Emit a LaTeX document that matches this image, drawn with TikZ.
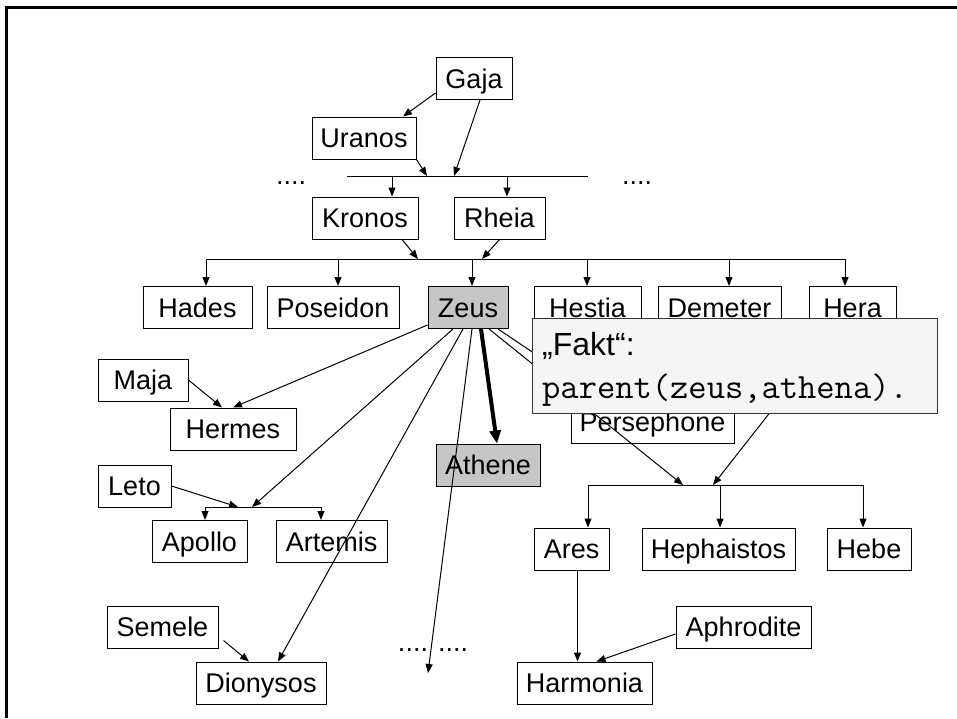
\documentclass[tikz,border=0pt]{standalone}
\usepackage{fontspec}
\setmainfont{Liberation Sans}
\usetikzlibrary{calc, arrows.meta}

\newcommand{\godfont}{\fontsize{27}{31}\selectfont}

\tikzset{
  god/.style={draw, rectangle, line width=1pt, minimum height=42, inner sep=0,
    text height=19, text depth=0, font=\godfont},
  chosen/.style={god, fill=gray!45},
  link/.style={line width=1pt, -{Triangle[length=9pt,width=7pt]}},
  bar/.style={line width=1pt}
}

\begin{document}
\begin{tikzpicture}[x=1pt,y=-1pt]
    \useasboundingbox (0,0) rectangle (957,718);
    \draw[line width=3pt] (6,718) -- (6,7) -- (957,7);

    % Titanen
    \node[god, minimum width=76] (gaja) at (474,78.5) {Gaja};
    \node[god, minimum width=104] (uranos) at (364,138) {Uranos};
    \node[god, minimum width=106] (kronos) at (365,218) {Kronos};
    \node[god, minimum width=91] (rheia) at (499.5,218) {Rheia};
    \node[font=\godfont, anchor=base, inner sep=0] (dotsl) at (291,184) {....};
    \node[font=\godfont, anchor=base, inner sep=0] (dotsr) at (637,184) {....};

    % Kinder von Kronos und Rheia
    \node[god, minimum width=109] (hades) at (197.5,307.5) {Hades};
    \node[god, minimum width=132] (poseidon) at (333,307.5) {Poseidon};
    \node[chosen, minimum width=80] (zeus) at (468,307.5) {Zeus};
    \node[god, minimum width=107] (hestia) at (587.5,307.5) {Hestia};
    \node[god, minimum width=123] (demeter) at (719.5,307.5) {Demeter};
    \node[god, minimum width=87] (hera) at (852.5,307.5) {Hera};

    % Zeus' Partnerinnen und Kinder
    \node[god, minimum width=90] (maja) at (143,380) {Maja};
    \node[god, minimum width=126] (hermes) at (233,429) {Hermes};
    \node[god, minimum width=73] (leto) at (134.5,486) {Leto};
    \node[god, minimum width=95] (apollo) at (199.5,541.5) {Apollo};
    \node[god, minimum width=111] (artemis) at (331.5,541.5) {Artemis};
    \node[god, minimum width=111] (semele) at (162.5,627) {Semele};
    \node[god, minimum width=130] (dionysos) at (261,683) {Dionysos};
    \node[chosen, minimum width=104] (athene) at (488,465) {Athene};
    \node[font=\godfont, anchor=base, inner sep=0] (dotsm) at (433,651) {.... ....};
    \node[god, minimum width=163] (persephone) at (652.5,422) {Persephone};
    \node[god, minimum width=75] (ares) at (571.5,549) {Ares};
    \node[god, minimum width=153] (hephaistos) at (718.5,549) {Hephaistos};
    \node[god, minimum width=84] (hebe) at (869,549) {Hebe};
    \node[god, minimum width=135] (aphrodite) at (743.5,627) {Aphrodite};
    \node[god, minimum width=135] (harmonia) at (584.5,683) {Harmonia};

    % Verzweigungspunkte
    \coordinate (kbarl) at (347,176);
    \coordinate (kbarr) at (588,176);
    \coordinate (kin1) at (427,176);
    \coordinate (kin2) at (454,176);
    \coordinate (kdk) at (392,176);
    \coordinate (kdr) at (507,176);
    \coordinate (zbarl) at (206,259);
    \coordinate (zbarr) at (845,259);
    \coordinate (zin1) at (418,259);
    \coordinate (zin2) at (482,259);
    \coordinate (zd2) at (338,259);
    \coordinate (zd3) at (472,259);
    \coordinate (zd4) at (587,259);
    \coordinate (zd5) at (729,259);
    \coordinate (abarl) at (205,507);
    \coordinate (abarr) at (321,507);
    \coordinate (ain1) at (238,507);
    \coordinate (ain2) at (252,507);
    \coordinate (hbarl) at (588,485);
    \coordinate (hbarr) at (863,485);
    \coordinate (hin1) at (683,485);
    \coordinate (hin2) at (713,485);
    \coordinate (hd2) at (720,485);
    \coordinate (more) at (428,673);

    % Gaja und Uranos
    \draw[link] ([yshift=7]gaja.south west) -- ([xshift=39]uranos.north);
    \draw[bar] (kbarl) -- (kbarr);
    \draw[link] (uranos.south east) -- (kin1);
    \draw[link] ([xshift=6]gaja.south) -- (kin2);
    \draw[link] (kdk) -- (kdk |- kronos.north);
    \draw[link] (kdr) -- (kdr |- rheia.north);

    % Kronos und Rheia
    \draw[bar] (zbarl) -- (zbarr);
    \draw[link] ([xshift=37]kronos.south) -- (zin1);
    \draw[link] (rheia.south) -- (zin2);
    \draw[link] (zbarl) -- (zbarl |- hades.north);
    \draw[link] (zd2) -- (zd2 |- poseidon.north);
    \draw[link] (zd3) -- (zd3 |- zeus.north);
    \draw[link] (zd4) -- (zd4 |- hestia.north);
    \draw[link] (zd5) -- (zd5 |- demeter.north);
    \draw[link] (zbarr) -- (zbarr |- hera.north);

    % Zeus
    \draw[link] ([yshift=4]zeus.south west) -- (hermes.north);
    \draw[link] (maja.east) -- ([xshift=-11]hermes.north);
    \draw[bar] (abarl) -- (abarr);
    \draw[link] ([xshift=-15]zeus.south) -- (ain2);
    \draw[link] (leto.east) -- (ain1);
    \draw[link] (abarl) -- (abarl |- apollo.north);
    \draw[link] (abarr) -- (abarr |- artemis.north);
    \draw[link] ([xshift=-5]zeus.south) -- ([xshift=17]dionysos.north);
    \draw[link] ([xshift=5,yshift=8]semele.south east) -- ([xshift=-12]dionysos.north);
    \draw[link] ([xshift=4]zeus.south) -- (more);
    \draw[line width=4pt, -{Triangle[length=13pt,width=11pt]}] ([xshift=13]zeus.south) -- ([xshift=9]athene.north);
    \draw[link] ([xshift=30]zeus.south) -- ([xshift=-48]persephone.north);

    % Zeus und Hera
    \draw[bar] (hbarl) -- (hbarr);
    \draw[link] ([xshift=21]zeus.south) -- (hin1);
    \draw[link] ([xshift=-17]hera.south) -- (hin2);
    \draw[link] (hbarl) -- (hbarl |- ares.north);
    \draw[link] (hd2) -- (hd2 |- hephaistos.north);
    \draw[link] (hbarr) -- (hbarr |- hebe.north);
    \draw[link] ([xshift=6]ares.south) -- ([xshift=6]ares.south |- harmonia.north);
    \draw[link] ([yshift=-7]aphrodite.west) -- ([xshift=12]harmonia.north);

    % Fakt
    \node[draw=gray!40!black, fill=gray!8, line width=1pt, minimum width=405,
      minimum height=95, inner sep=0] (fakt) at (734.5,365.5) {};
    \node[anchor=base west, inner sep=0, font=\fontsize{32}{36}\selectfont] (fakttitle) at (542,355) {„Fakt“:};
    \node[anchor=base west, inner sep=0, font=\ttfamily\fontsize{35.5}{40}\selectfont] (faktcode) at (542,398) {parent(zeus,athena).};
\end{tikzpicture}
\end{document}
